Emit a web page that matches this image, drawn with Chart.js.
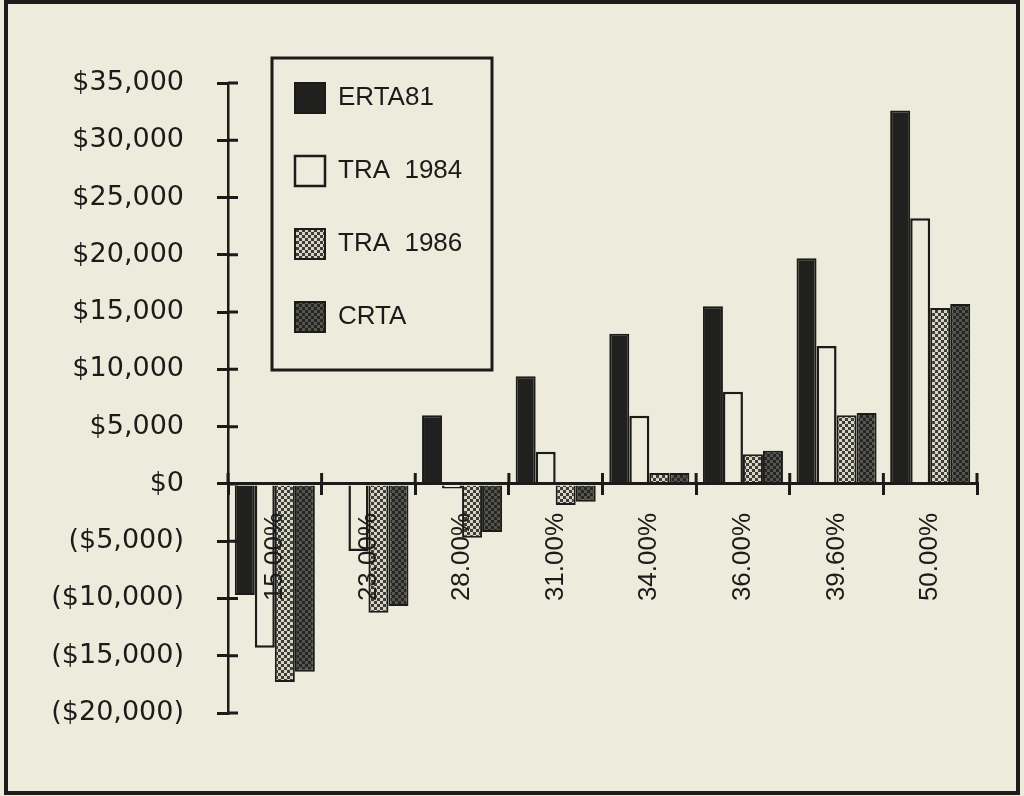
<!DOCTYPE html>
<html>
<head>
<meta charset="utf-8">
<title>Tax change by bracket</title>
<script src="https://cdn.jsdelivr.net/npm/chart.js@4.4.1/dist/chart.umd.min.js"></script>
<style>
  html, body { margin: 0; padding: 0; background: #edecdc; }
  #frame {
    position: absolute; left: 4px; top: 0;
    width: 1008px; height: 787px;
    border: 4px solid #1d1d1b; background: #edecdc;
  }
  canvas { display: block; }
</style>
</head>
<body>
<div id="frame"><canvas id="taxChart" width="1008" height="787"></canvas></div>
<script>
// Dados
const brackets = ["15.00%", "23.00%", "28.00%", "31.00%", "34.00%", "36.00%", "39.60%", "50.00%"];
const erta81  = [-9700,      0,  6000,  9400, 13100, 15500, 19700, 32600];
const tra1984 = [-14300, -5850,  -400,  2800,  5950,  8050, 12050, 23200];
const tra1986 = [-17300, -11250, -4700, -1850,   950,  2600,  6000, 15350];
const crta    = [-16400, -10650, -4200, -1550,   950,  2900,  6200, 15700];

const ink = "#1b1b19";
const paper = "#edecdc";
const canvas = document.getElementById("taxChart");
const ctx = canvas.getContext("2d");

// Padrão xadrez pequeno para as barras pontilhadas
function makePattern(base, dot, cell) {
    const tile = document.createElement("canvas");
    tile.width = tile.height = cell * 2;
    const c = tile.getContext("2d");
    c.fillStyle = base;
    c.fillRect(0, 0, cell * 2, cell * 2);
    c.fillStyle = dot;
    c.fillRect(0, 0, cell, cell);
    c.fillRect(cell, cell, cell, cell);
    return ctx.createPattern(tile, "repeat");
}

function money(v) {
    const s = "$" + Math.abs(v).toLocaleString("en-US");
    return v < 0 ? "(" + s + ")" : s;
}

// Traços que cruzam os eixos e moldura da legenda
const axisMarks = {
    id: "axisMarks",
    afterLayout(chart) {
        const lg = chart.legend, area = chart.chartArea;
        lg.left = area.left + 24;
        lg.top = area.top - 43;
    },
    afterDraw(chart) {
        const c = chart.ctx, x = chart.scales.x, y = chart.scales.y;
        const area = chart.chartArea;
        const zero = y.getPixelForValue(0);
        c.save();
        c.strokeStyle = ink;
        c.lineWidth = 3;
        c.beginPath();
        y.ticks.forEach(t => {
            const py = y.getPixelForValue(t.value);
            c.moveTo(area.left, py);
            c.lineTo(area.left + 10, py);
        });
        for (let i = 0; i <= brackets.length; i++) {
            const px = x.getPixelForValue(i - 0.5);
            c.moveTo(px, zero - 11);
            c.lineTo(px, zero);
        }
        c.stroke();
        const lg = chart.legend;
        c.strokeRect(lg.left + 20, lg.top + 18, 220, 312);
        c.restore();
    }
};

Chart.defaults.font.family = "'Liberation Sans', Arial, sans-serif";
Chart.defaults.color = ink;

new Chart(ctx, {
    type: "bar",
    data: {
        labels: brackets,
        datasets: [
            { label: "ERTA81", data: erta81, backgroundColor: "#20201e", borderColor: ink, borderWidth: 2 },
            { label: "TRA  1984", data: tra1984, backgroundColor: paper, borderColor: ink, borderWidth: 2.5 },
            { label: "TRA  1986", data: tra1986, backgroundColor: makePattern("#3c3c39", "#d6d5c6", 3), borderColor: ink, borderWidth: 2 },
            { label: "CRTA", data: crta, backgroundColor: makePattern("#262624", "#55554f", 3), borderColor: ink, borderWidth: 2 }
        ]
    },
    options: {
        responsive: false,
        animation: false,
        barPercentage: 1.0,
        categoryPercentage: 0.855,
        layout: { padding: { left: 0, top: 79, right: 39, bottom: 78 } },
        plugins: {
            tooltip: { enabled: false },
            legend: {
                position: "chartArea",
                align: "start",
                labels: {
                    boxWidth: 30,
                    boxHeight: 30,
                    padding: 43,
                    color: ink,
                    font: { size: 26 }
                }
            }
        },
        scales: {
            x: {
                position: { y: 0 },
                grid: { drawOnChartArea: false, tickLength: 10, lineWidth: 3, color: ink },
                border: { color: ink, width: 3, z: 1 },
                ticks: {
                    z: 1, // rótulos por cima das barras, como no original
                    autoSkip: false,
                    minRotation: 90,
                    maxRotation: 90,
                    padding: 19,
                    color: ink,
                    font: { size: 26 }
                }
            },
            y: {
                min: -20000,
                max: 35000,
                afterFit(scale) { scale.width = 220; },
                grid: { drawOnChartArea: false, tickLength: 11, lineWidth: 3, color: ink },
                border: { color: ink, width: 2.5 },
                ticks: {
                    stepSize: 5000,
                    padding: 33,
                    color: ink,
                    font: { family: "'DejaVu Sans', sans-serif", size: 27 },
                    callback: v => money(v)
                }
            }
        }
    },
    plugins: [axisMarks]
});
</script>
</body>
</html>
